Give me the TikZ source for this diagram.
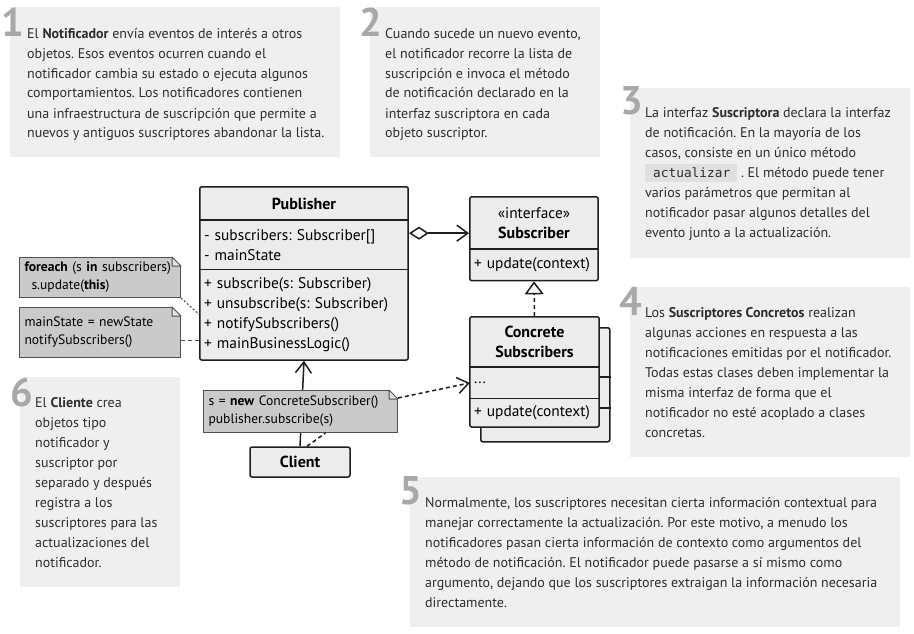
\documentclass[tikz,border=0pt]{standalone}
\usepackage{fontspec}
\setmainfont{PT Sans}
\setmonofont{DejaVu Sans Mono}
\usepackage{tikz}
\usetikzlibrary{arrows.meta, positioning, calc, fit}

\definecolor{panelgray}{RGB}{239, 239, 239}
\definecolor{digitgray}{RGB}{168, 168, 168}
\definecolor{textdark}{RGB}{45, 45, 45}
\definecolor{classfill}{RGB}{236, 236, 236}
\definecolor{classline}{RGB}{30, 30, 30}
\definecolor{notefill}{RGB}{202, 202, 202}
\definecolor{noteline}{RGB}{80, 80, 80}
\definecolor{notefold}{RGB}{225, 225, 225}
\definecolor{chipgray}{RGB}{224, 224, 224}

\newcommand{\codechip}[1]{{\setlength{\fboxsep}{0pt}\colorbox{chipgray}{\rule[-5pt]{0pt}{18pt}\hspace{8pt}\ttfamily\fontsize{12.8}{12.8}\selectfont #1\hspace{7pt}}}}

\newcommand{\dogear}[1]{%
  \fill[white] ([xshift=-9pt,yshift=1pt]#1.north east) -- ([xshift=1pt,yshift=1pt]#1.north east)
    -- ([xshift=1pt,yshift=-9pt]#1.north east) -- ([yshift=-9pt]#1.north east) -- ([xshift=-9pt]#1.north east) -- cycle;
  \draw[draw=noteline, line width=1pt, fill=notefold, line join=round] ([xshift=-9pt]#1.north east)
    -- ([xshift=-9pt,yshift=-9pt]#1.north east) -- ([yshift=-9pt]#1.north east) -- cycle;}

\tikzset{
  digit/.style={font=\fontsize{40}{40}\selectfont\bfseries, text=digitgray, inner sep=0pt},
  blurb/.style={anchor=base west, align=left, inner sep=0pt, text=textdark, font=\fontsize{14}{20}\selectfont},
  compart/.style={fill=classfill, inner sep=4pt, font=\fontsize{15.4}{20}\selectfont},
  classtitle/.style={font=\fontsize{16}{20}\selectfont\bfseries},
  classframe/.style={draw=classline, line width=1.5pt, rounded corners=2pt, inner sep=0pt},
  divider/.style={draw=classline, line width=1.5pt},
  notebox/.style={fill=notefill, draw=noteline, line width=1pt, inner ysep=0pt, inner xsep=5pt,
    anchor=north west, align=left, font=\fontsize{13.6}{18}\selectfont},
  conn/.style={draw=classline, line width=1.5pt},
  notelink/.style={draw=noteline, line width=1.2pt, dash pattern=on 4pt off 3pt},
}

\begin{document}
\frenchspacing
\begin{tikzpicture}[x=1pt, y=-1pt]
  \useasboundingbox (0,0) rectangle (914,634);

  % Explanation panels
  \fill[panelgray] (10, 7) rectangle (340, 157);
  \fill[panelgray] (370, 7) rectangle (600, 157);
  \fill[panelgray] (630, 88) rectangle (910, 258);
  \fill[panelgray] (630, 287) rectangle (910, 457);
  \fill[panelgray] (410, 477) rectangle (900, 627);
  \fill[panelgray] (20, 377) rectangle (180, 587);

  \node[digit] (num1) at (13, 22) {1};
  \node[digit] (num2) at (371, 22) {2};
  \node[digit] (num3) at (632, 101) {3};
  \node[digit] (num4) at (631, 301) {4};
  \node[digit] (num5) at (411, 491) {5};
  \node[digit] (num6) at (22, 392) {6};

  % blurbs are anchored at the baseline of their last line
  \node[blurb] (blurb1) at (27, 138) {
    El \textbf{Notificador} envía eventos de interés a otros\\
    objetos. Esos eventos ocurren cuando el\\
    notificador cambia su estado o ejecuta algunos\\
    comportamientos. Los notificadores contienen\\
    una infraestructura de suscripción que permite a\\
    nuevos y antiguos suscriptores abandonar la lista.
  };
  \node[blurb] (blurb2) at (385, 138) {
    Cuando sucede un nuevo evento,\\
    el notificador recorre la lista de\\
    suscripción e invoca el método\\
    de notificación declarado en la\\
    interfaz suscriptora en cada\\
    objeto suscriptor.
  };
  \node[blurb] (blurb3) at (645, 237) {
    La interfaz \textbf{Suscriptora} declara la interfaz\\
    de notificación. En la mayoría de los\\
    casos, consiste en un único método\\
    \codechip{actualizar} . El método puede tener\\
    varios parámetros que permitan al\\
    notificador pasar algunos detalles del\\
    evento junto a la actualización.
  };
  \node[blurb] (blurb4) at (645, 437) {
    Los \textbf{Suscriptores Concretos} realizan\\
    algunas acciones en respuesta a las\\
    notificaciones emitidas por el notificador.\\
    Todas estas clases deben implementar la\\
    misma interfaz de forma que el\\
    notificador no esté acoplado a clases\\
    concretas.
  };
  \node[blurb] (blurb5) at (425, 607) {
    Normalmente, los suscriptores necesitan cierta información contextual para\\
    manejar correctamente la actualización. Por este motivo, a menudo los\\
    notificadores pasan cierta información de contexto como argumentos del\\
    método de notificación. El notificador puede pasarse a sí mismo como\\
    argumento, dejando que los suscriptores extraigan la información necesaria\\
    directamente.
  };
  \node[blurb] (blurb6) at (35, 567) {
    El \textbf{Cliente} crea\\
    objetos tipo\\
    notificador y\\
    suscriptor por\\
    separado y después\\
    registra a los\\
    suscriptores para las\\
    actualizaciones del\\
    notificador.
  };

  % Publisher
  \node[compart, classtitle, minimum width=208pt, minimum height=33pt] (pubname) at (304, 203.5) {Publisher};
  \node[compart, text width=200pt, minimum height=49pt, align=left, below=0pt of pubname] (pubattr) {- subscribers: Subscriber[]\\- mainState};
  \node[compart, text width=200pt, minimum height=90pt, align=left, below=0pt of pubattr] (pubops) {+ subscribe(s: Subscriber)\\+ unsubscribe(s: Subscriber)\\+ notifySubscribers()\\+ mainBusinessLogic()};
  \node[classframe, fit=(pubname)(pubops)] (pub) {};
  \draw[divider] (pubattr.north west) -- (pubattr.north east);
  \draw[divider] (pubops.north west) -- (pubops.north east);

  % Subscriber interface
  \node[compart, minimum width=128pt, minimum height=52pt, align=center] (subname) at (534, 223) {«interface»\\{\fontsize{16}{20}\selectfont\bfseries Subscriber}};
  \node[compart, text width=120pt, minimum height=31pt, align=left, below=0pt of subname] (subops) {+ update(context)};
  \node[classframe, fit=(subname)(subops)] (sub) {};
  \draw[divider] (subops.north west) -- (subops.north east);

  % Concrete subscribers (stacked)
  \node[classframe, fill=classfill, minimum width=129pt, minimum height=114pt, anchor=north west] (concback) at (480, 327) {};
  \draw[divider] ([yshift=-50pt]concback.north west) -- ([yshift=-50pt]concback.north east);
  \draw[divider] ([yshift=-81pt]concback.north west) -- ([yshift=-81pt]concback.north east);
  \node[compart, classtitle, minimum width=129pt, minimum height=50pt, align=center] (concname) at (534.5, 342) {Concrete\\Subscribers};
  \node[compart, text width=121pt, minimum height=31pt, align=left, below=0pt of concname] (concattr) {...};
  \node[compart, text width=121pt, minimum height=28pt, align=left, below=0pt of concattr] (concops) {+ update(context)};
  \node[classframe, fit=(concname)(concops)] (conc) {};
  \draw[divider] (concattr.north west) -- (concattr.north east);
  \draw[divider] (concops.north west) -- (concops.north east);

  % Client
  \node[compart, classframe, classtitle, minimum width=100pt, minimum height=30pt] (client) at (300, 462) {Client};

  % Relations
  \draw[conn, {Diamond[open, length=20pt, width=13pt]}-{Straight Barb[length=11pt, width=16pt]}]
    ([yshift=5.5pt]sub.west -| pub.east) -- ([yshift=5.5pt]sub.west);
  \draw[conn, dash pattern=on 4pt off 3pt, -{Triangle[open, length=13pt, width=19pt]}] (conc.north) -- (sub.south);
  \draw[conn, -{Straight Barb[length=11pt, width=16pt]}] (client.north) -- (pub.south);

  % Notes
  \node[notebox, minimum width=161pt, minimum height=40pt, text width=151pt] (noteloop) at (19, 257)
    {\textbf{foreach} (s \textbf{in} subscribers)\\\hspace*{7pt}s.update(\textbf{this})};
  \dogear{noteloop}
  \node[notebox, minimum width=161pt, minimum height=50pt, text width=151pt] (notestate) at (19, 307)
    {mainState = newState\\notifySubscribers()};
  \dogear{notestate}
  \node[notebox, minimum width=194pt, minimum height=42pt, text width=184pt] (noteclient) at (203, 390)
    {s = \textbf{new} ConcreteSubscriber()\\publisher.subscribe(s)};
  \dogear{noteclient}

  \draw[notelink, dash pattern=on 2pt off 2pt] (noteloop.south east) -- ([yshift=-41pt]pub.west);
  \draw[notelink] ([yshift=-8pt]notestate.east) -- ([yshift=-8pt]notestate.east -| pub.west);
  \draw[notelink, draw=classline, line width=1.5pt] ([xshift=7pt]client.north) -- ([xshift=25pt]noteclient.south);
  \draw[notelink, draw=classline, line width=1.5pt, -{Straight Barb[length=11pt, width=16pt]}]
    ([yshift=-8pt]noteclient.north east) -- (concattr.west);
\end{tikzpicture}
\end{document}
